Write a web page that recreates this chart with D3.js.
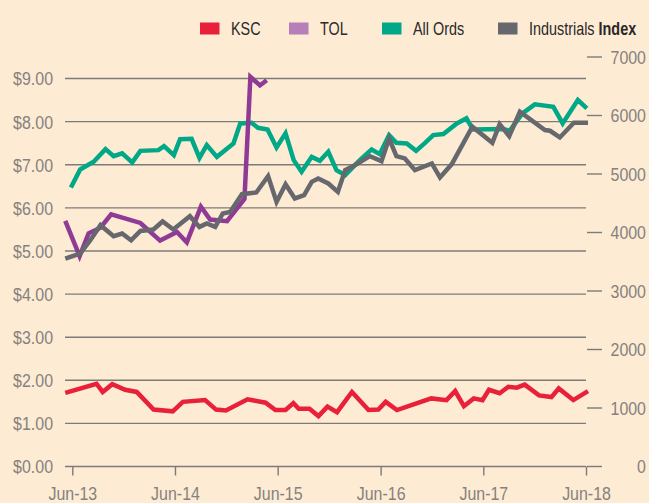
<!DOCTYPE html>
<html>
<head>
<meta charset="utf-8">
<script src="https://cdn.jsdelivr.net/npm/d3@7"></script>
<style>
  html, body { margin: 0; padding: 0; background: #fdebd4; }
  svg { display: block; font-family: "Liberation Sans", Arial, sans-serif; }
</style>
</head>
<body>
<div id="chart"></div>
<script>
// share prices (left axis, $) and indices (right axis)
const ksc = [
  ["2013-05-07", 1.71], ["2013-08-26", 1.92], ["2013-09-17", 1.73], ["2013-10-21", 1.91],
  ["2013-12-06", 1.78], ["2014-01-16", 1.73], ["2014-03-17", 1.32], ["2014-05-24", 1.28],
  ["2014-06-29", 1.50], ["2014-09-16", 1.54], ["2014-10-25", 1.32], ["2014-11-29", 1.30],
  ["2015-02-14", 1.56], ["2015-04-19", 1.48], ["2015-05-24", 1.31], ["2015-06-29", 1.31],
  ["2015-07-27", 1.47], ["2015-08-15", 1.34], ["2015-09-22", 1.34], ["2015-10-24", 1.17],
  ["2015-11-25", 1.39], ["2015-12-29", 1.26], ["2016-02-20", 1.73], ["2016-04-19", 1.31],
  ["2016-05-24", 1.32], ["2016-06-19", 1.50], ["2016-07-29", 1.31], ["2016-11-28", 1.58],
  ["2017-01-21", 1.54], ["2017-02-21", 1.75], ["2017-03-24", 1.40], ["2017-04-28", 1.58],
  ["2017-05-29", 1.54], ["2017-06-21", 1.78], ["2017-07-29", 1.70], ["2017-08-29", 1.85],
  ["2017-09-28", 1.83], ["2017-10-26", 1.90], ["2017-12-16", 1.65], ["2018-01-29", 1.61],
  ["2018-02-24", 1.81], ["2018-04-17", 1.54], ["2018-06-08", 1.75]
];

const tol = [
  ["2013-05-07", 5.70], ["2013-06-27", 4.88], ["2013-07-29", 5.41], ["2013-09-09", 5.54],
  ["2013-10-17", 5.85], ["2014-01-29", 5.65], ["2014-04-09", 5.24], ["2014-06-08", 5.44],
  ["2014-07-13", 5.20], ["2014-09-01", 6.03], ["2014-10-04", 5.73], ["2014-12-03", 5.69],
  ["2015-02-03", 6.21], ["2015-02-24", 9.04], ["2015-03-30", 8.84], ["2015-04-23", 8.96]
];

const allOrds = [
  ["2013-05-27", 4770], ["2013-06-29", 5078], ["2013-08-16", 5208], ["2013-09-27", 5425],
  ["2013-10-26", 5305], ["2013-11-25", 5352], ["2013-12-31", 5198], ["2014-01-29", 5396],
  ["2014-04-03", 5408], ["2014-04-23", 5477], ["2014-05-28", 5323], ["2014-06-19", 5596],
  ["2014-07-30", 5602], ["2014-08-27", 5276], ["2014-09-22", 5494], ["2014-10-28", 5293],
  ["2014-12-26", 5523], ["2015-01-19", 5865], ["2015-02-28", 5875], ["2015-03-23", 5790],
  ["2015-04-26", 5762], ["2015-05-28", 5454], ["2015-06-29", 5694], ["2015-07-28", 5237],
  ["2015-08-25", 5037], ["2015-09-30", 5293], ["2015-10-29", 5225], ["2015-11-28", 5379],
  ["2015-12-27", 5066], ["2016-01-27", 4980], ["2016-03-19", 5237], ["2016-04-30", 5420],
  ["2016-05-29", 5340], ["2016-07-01", 5665], ["2016-07-27", 5533], ["2016-09-02", 5523],
  ["2016-10-05", 5396], ["2016-11-06", 5533], ["2016-12-05", 5665], ["2017-01-10", 5682],
  ["2017-02-27", 5865], ["2017-04-02", 5951], ["2017-04-25", 5762], ["2017-08-10", 5768],
  ["2017-09-03", 5739], ["2017-10-18", 6036], ["2017-12-01", 6190], ["2018-02-05", 6149],
  ["2018-03-10", 5865], ["2018-05-03", 6264], ["2018-06-04", 6122]
];

const industrials = [
  ["2013-05-07", 3555], ["2013-06-29", 3640], ["2013-08-04", 3868], ["2013-09-09", 4125],
  ["2013-10-26", 3936], ["2013-11-25", 3983], ["2013-12-27", 3868], ["2014-01-29", 4027],
  ["2014-03-16", 4051], ["2014-04-18", 4188], ["2014-05-26", 4051], ["2014-07-24", 4279],
  ["2014-08-27", 4096], ["2014-09-22", 4154], ["2014-10-22", 4096], ["2014-11-18", 4325],
  ["2014-12-14", 4352], ["2015-01-25", 4655], ["2015-03-17", 4684], ["2015-04-28", 4963],
  ["2015-05-28", 4523], ["2015-06-29", 4826], ["2015-08-01", 4582], ["2015-09-03", 4638],
  ["2015-09-30", 4866], ["2015-10-23", 4924], ["2015-11-28", 4838], ["2016-01-01", 4695],
  ["2016-01-27", 5066], ["2016-03-01", 5151], ["2016-04-24", 5305], ["2016-06-04", 5220],
  ["2016-07-01", 5608], ["2016-07-27", 5305], ["2016-08-26", 5266], ["2016-10-01", 5066],
  ["2016-11-30", 5180], ["2016-12-29", 4941], ["2017-02-09", 5169], ["2017-04-23", 5807],
  ["2017-07-03", 5533], ["2017-07-29", 5853], ["2017-09-01", 5648], ["2017-10-09", 6064],
  ["2018-01-06", 5751], ["2018-01-24", 5739], ["2018-02-28", 5625], ["2018-04-19", 5875],
  ["2018-06-08", 5875]
];

const leftTicks = [0, 1, 2, 3, 4, 5, 6, 7, 8, 9];
const rightTicks = [0, 1000, 2000, 3000, 4000, 5000, 6000, 7000];
const xTicks = ["2013-06-01", "2014-06-01", "2015-06-01", "2016-06-01", "2017-06-01", "2018-06-01"];

const legendItems = [
  { label: "KSC", color: "#e8203a" },
  { label: "TOL", color: "#b67fba" },
  { label: "All Ords", color: "#00a887" },
  { label: "Industrials", bold: "Index", color: "#67686e" }
];

const width = 649, height = 503;
const parse = d3.timeParse("%Y-%m-%d");
const narrow = 0.84; // squeeze text horizontally, no condensed font installed

const svg = d3.select("#chart")
    .append("svg")
    .attr("width", width)
    .attr("height", height);

const x = d3.scaleTime()
    .domain([parse("2013-06-01"), parse("2018-06-01")])
    .range([72.3, 586]);

const yLeft = d3.scaleLinear().domain([0, 9.5]).range([466.5, 57]);
const yRight = d3.scaleLinear().domain([0, 7000]).range([466.5, 57]);

const gridColor = "#7d7b78";
const labelColor = "#85817d";

// gridlines on the $ axis
svg.append("g")
    .selectAll("line")
    .data(leftTicks)
    .enter()
    .append("line")
    .attr("x1", 65)
    .attr("x2", 586)
    .attr("y1", d => yLeft(d))
    .attr("y2", d => yLeft(d))
    .attr("stroke", gridColor)
    .attr("stroke-width", 1.4);

svg.append("g")
    .selectAll("text")
    .data(leftTicks)
    .enter()
    .append("text")
    .attr("transform", d => `translate(53,${yLeft(d)}) scale(${narrow},1)`)
    .attr("dy", "0.36em")
    .attr("text-anchor", "end")
    .attr("fill", labelColor)
    .style("font-size", "19px")
    .text(d => d3.format("$.2f")(d));

// right axis: short ticks and labels
const right = svg.append("g");
right.selectAll("line")
    .data(rightTicks)
    .enter()
    .append("line")
    .attr("x1", 587)
    .attr("x2", 602)
    .attr("y1", d => yRight(d))
    .attr("y2", d => yRight(d))
    .attr("stroke", gridColor)
    .attr("stroke-width", 1.4);

right.selectAll("text")
    .data(rightTicks)
    .enter()
    .append("text")
    .attr("transform", d => `translate(646,${yRight(d)}) scale(${narrow},1)`)
    .attr("dy", "0.36em")
    .attr("text-anchor", "end")
    .attr("fill", labelColor)
    .style("font-size", "19px")
    .text(d => d);

// bottom axis
const xAxis = svg.append("g")
    .attr("transform", "translate(0,466.5)")
    .call(d3.axisBottom(x)
        .tickValues(xTicks.map(parse))
        .tickSize(9)
        .tickPadding(11)
        .tickFormat(d3.timeFormat("%b-%y")));
xAxis.select(".domain").remove();
xAxis.selectAll("line").attr("stroke", gridColor).attr("stroke-width", 1.4);
xAxis.selectAll("text")
    .attr("transform", `scale(${narrow},1)`)
    .attr("fill", labelColor)
    .style("font-size", "19px")
    .style("font-family", "\"Liberation Sans\", Arial, sans-serif");

// series
function drawLine(data, scale, color) {
    const line = d3.line()
        .x(d => x(parse(d[0])))
        .y(d => scale(d[1]));
    svg.append("path")
        .datum(data)
        .attr("d", line)
        .attr("fill", "none")
        .attr("stroke", color)
        .attr("stroke-width", 4.5)
        .attr("stroke-linejoin", "miter")
        .attr("stroke-linecap", "butt");
}

drawLine(allOrds, yRight, "#00a887");
drawLine(tol, yLeft, "#8f3b96");
drawLine(industrials, yRight, "#67686e");
drawLine(ksc, yLeft, "#e8203a");

// legend
const legendX = [200, 289, 382, 498];
const legend = svg.append("g");
legendItems.forEach((d, i) => {
    legend.append("rect")
        .attr("x", legendX[i])
        .attr("y", 22.5)
        .attr("width", 19.5)
        .attr("height", 12)
        .attr("fill", d.color);
    const t = legend.append("text")
        .attr("transform", `translate(${legendX[i] + 31},35) scale(0.8,1)`)
        .attr("fill", "#2a2828")
        .style("font-size", "18px")
        .text(d.label);
    if (d.bold) {
        t.append("tspan")
            .attr("font-weight", "bold")
            .text(" " + d.bold);
    }
});
</script>
</body>
</html>
